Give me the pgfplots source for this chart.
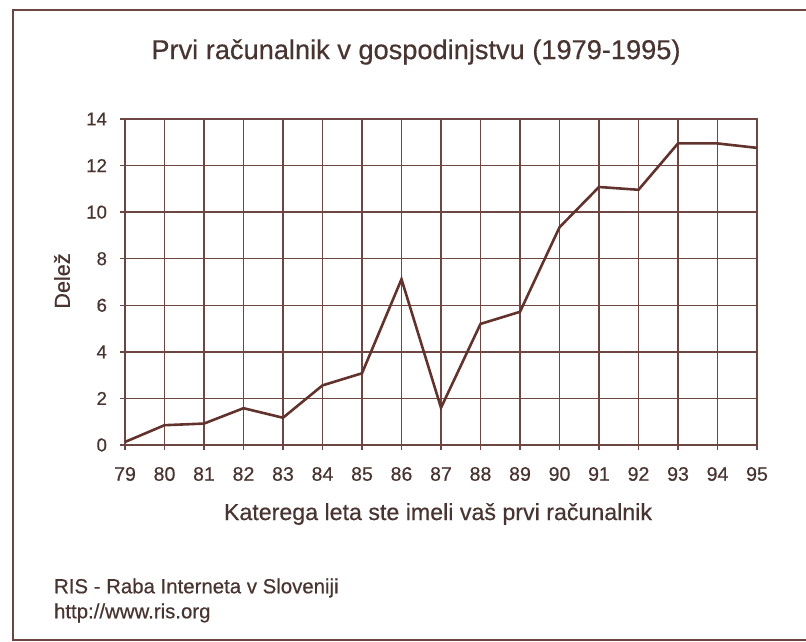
\documentclass[border=0pt]{standalone}
\usepackage{fontspec}
\setmainfont{Liberation Sans}[FakeBold=0.5]
\usepackage{pgfplots}
\pgfplotsset{compat=1.18}
\definecolor{lineC}{RGB}{98,50,45}
\definecolor{gridC}{RGB}{110,70,65}
\definecolor{textC}{RGB}{72,52,48}
\begin{document}
\begin{tikzpicture}[x=1pt,y=1pt]
\path[use as bounding box] (0,0) rectangle (403,320.5);
\draw[line width=1pt, color=gridC] (403,315.5) -- (6.5,315.5) -- (6.5,0.5) -- (403,0.5);
\begin{axis}[
  at={(62.5pt,98pt)}, anchor=south west,
  scale only axis, width=316pt, height=163pt,
  xmin=79, xmax=95, ymin=0, ymax=14,
  xtick={79,...,95}, ytick={0,2,...,14},
  xticklabels={79,80,81,82,83,84,85,86,87,88,89,90,91,92,93,94,95},
  /pgf/number format/assume math mode=true,
  grid=major,
  major grid style={color=gridC, line width=0.7pt},
  axis line style={color=gridC, line width=0.9pt},
  tick style={color=gridC, line width=0.7pt},
  tick align=outside, major tick length=2.5pt,
  xtick pos=bottom, ytick pos=left,
  xticklabel style={font=\fontsize{9.8}{11}\selectfont, text=textC, yshift=-5pt},
  yticklabel style={font=\fontsize{9.3}{11}\selectfont, text=textC, xshift=-3pt},
]
\addplot[color=lineC, line width=1.3pt] coordinates {
(79,0.13) (80,0.85) (81,0.92) (82,1.58) (83,1.17) (84,2.56) (85,3.08)
(86,7.12) (87,1.6) (88,5.2) (89,5.72) (90,9.35) (91,11.08) (92,10.96)
(93,12.95) (94,12.95) (95,12.76)
};
\end{axis}
\node[text=textC, font=\fontsize{13.6}{15}\selectfont] at (208,294.5) {Prvi računalnik v gospodinjstvu (1979-1995)};
\node[text=textC, font=\fontsize{11.6}{13}\selectfont] at (219,63.5) {Katerega leta ste imeli vaš prvi računalnik};
\node[text=textC, font=\fontsize{10.8}{12}\selectfont, rotate=90] at (31,180) {Delež};
\node[text=textC, font=\fontsize{10.2}{12}\selectfont, anchor=west] at (23.5,26.5) {RIS - Raba Interneta v Sloveniji};
\node[text=textC, font=\fontsize{10.2}{12}\selectfont, anchor=west] at (23.5,14) {http://www.ris.org};
\end{tikzpicture}
\end{document}
